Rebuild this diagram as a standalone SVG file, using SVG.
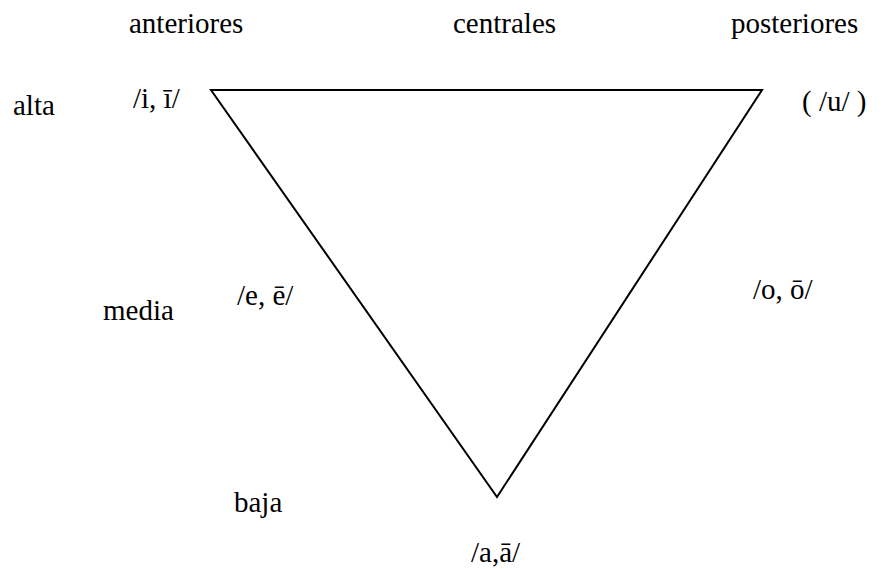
<svg xmlns="http://www.w3.org/2000/svg" width="885" height="569" viewBox="0 0 885 569">
<style>
text { font-family: "Liberation Serif", "Times New Roman", serif; font-size: 29px; fill: #000; }
.edge { fill: none; stroke: #000; stroke-width: 2; }
</style>
<rect width="885" height="569" fill="#fff"/>
<g id="connectors">
<polygon class="edge" points="211,90 762,90 497,497"/>
</g>
<g id="labels">
<text id="anteriores" x="129" y="33">anteriores</text>
<text id="centrales" x="453" y="33">centrales</text>
<text id="posteriores" x="731" y="33">posteriores</text>
<text id="alta" x="13" y="115">alta</text>
<text id="i" x="133" y="108">/i, ī/</text>
<text id="u" x="802" y="111">( /u/ )</text>
<text id="media" x="103" y="320">media</text>
<text id="e" x="237" y="305">/e, ē/</text>
<text id="o" x="753" y="299">/o, ō/</text>
<text id="baja" x="234" y="512">baja</text>
<text id="a" x="471" y="562">/a,ā/</text>
</g>
</svg>
